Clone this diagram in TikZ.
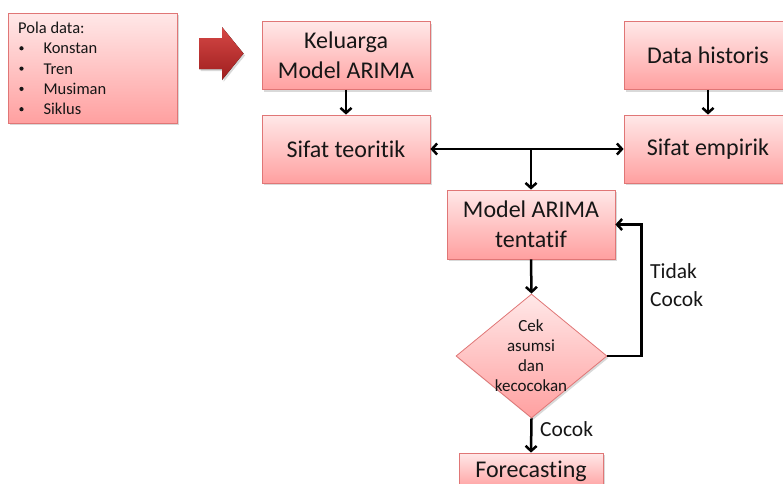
\documentclass[tikz,border=0pt]{standalone}
\usepackage{fontspec}
\setmainfont{Carlito}[Ligatures={NoCommon}]
\usetikzlibrary{shapes.geometric,shadows,arrows.meta,calc}
\definecolor{bordr}{RGB}{224,118,118}
\definecolor{ptop}{RGB}{255,232,232}
\definecolor{pbot}{RGB}{255,160,160}
\definecolor{txt}{RGB}{22,22,22}
\definecolor{atop}{RGB}{214,72,70}
\definecolor{abot}{RGB}{158,30,30}
\begin{document}
\begin{tikzpicture}[x=1pt,y=-1pt,
  shd/.style={drop shadow={opacity=0.3, shadow xshift=1.5pt, shadow yshift=-2pt}},
  pbox/.style={draw=bordr, line width=0.8pt, top color=ptop, bottom color=pbot, shd,
    minimum width=168pt, minimum height=68pt, inner sep=0pt, align=center,
    font=\fontsize{24}{30}\selectfont, text=txt},
  arr/.style={line width=2.5pt, -{Straight Barb[length=5pt,width=11pt]}},
  arrb/.style={line width=2.5pt, {Straight Barb[length=5pt,width=11pt]}-{Straight Barb[length=5pt,width=11pt]}},
  lbl/.style={font=\fontsize{21.5}{27}\selectfont, text=txt, anchor=base west, inner sep=0pt},
  ptxt/.style={font=\fontsize{16.5}{20}\selectfont, text=txt, anchor=base west, inner sep=0pt},
  bul/.style={circle, fill=txt, inner sep=0pt, minimum size=4.2pt}
]
\useasboundingbox (0,0) rectangle (783,483);
\clip (0,0) rectangle (783,483);

% Pola data box
\node[pbox, minimum width=169pt, minimum height=110pt] (pola) at (92.5,68) {};
\node[ptxt] (p0) at (18,33.5) {Pola data:};
\node[bul] (b1) at (21.5,48.3) {};
\node[ptxt] (p1) at (43.3,53.8) {Konstan};
\node[bul] (b2) at (21.5,68.6) {};
\node[ptxt] (p2) at (43.3,74.1) {Tren};
\node[bul] (b3) at (21.5,88.9) {};
\node[ptxt] (p3) at (43.3,94.4) {Musiman};
\node[bul] (b4) at (21.5,109.2) {};
\node[ptxt] (p4) at (43.3,114.7) {Siklus};

% big block arrow
\fill[top color=atop, bottom color=abot, shd]
  (199,38) -- (222,38) -- (222,27) -- (243.5,53.5) -- (222,80) -- (222,69) -- (199,69) -- cycle;

% boxes
\node[pbox] (kel) at (346,55.5) {Keluarga\\Model ARIMA};
\node[pbox] (teo) at (346,149) {Sifat teoritik};
\node[pbox] (his) at (708,55.5) {Data historis};
\node[pbox] (emp) at (708,149) {Sifat empirik};
\node[pbox, minimum height=69pt] (tent) at (531,224.5) {Model ARIMA\\tentatif};
\node[diamond, draw=bordr, line width=0.8pt, top color=ptop, bottom color=pbot, shd,
  minimum width=151pt, minimum height=124pt, inner sep=0pt, aspect=1.218] (dia) at (531.5,356) {};
\node[font=\fontsize{17}{20}\selectfont, text=txt, align=center, inner sep=0pt] (diatxt) at (531,356) {Cek\\asumsi\\dan\\kecocokan};
\node[pbox, minimum width=144pt, minimum height=36pt] (fc) at (531,471) {Forecasting};

% connectors
\draw[arr] (kel.south) -- (teo.north);
\draw[arr] (his.south) -- (emp.north);
\draw[arrb] (teo.east) -- (emp.west);
\coordinate (j) at (tent.north |- teo.east);
\draw[arr] (j) -- (tent.north);
\draw[arr] (tent.south) -- (dia.north);
\draw[arr] (dia.east) -- ++(34,0) |- (tent.east);
\draw[arr] (dia.south) -- (fc.north);

% labels
\node[lbl] (t1) at (650,278.7) {Tidak};
\node[lbl] (t2) at (650,306) {Cocok};
\node[lbl] (c1) at (540,436.7) {Cocok};
\end{tikzpicture}
\end{document}
